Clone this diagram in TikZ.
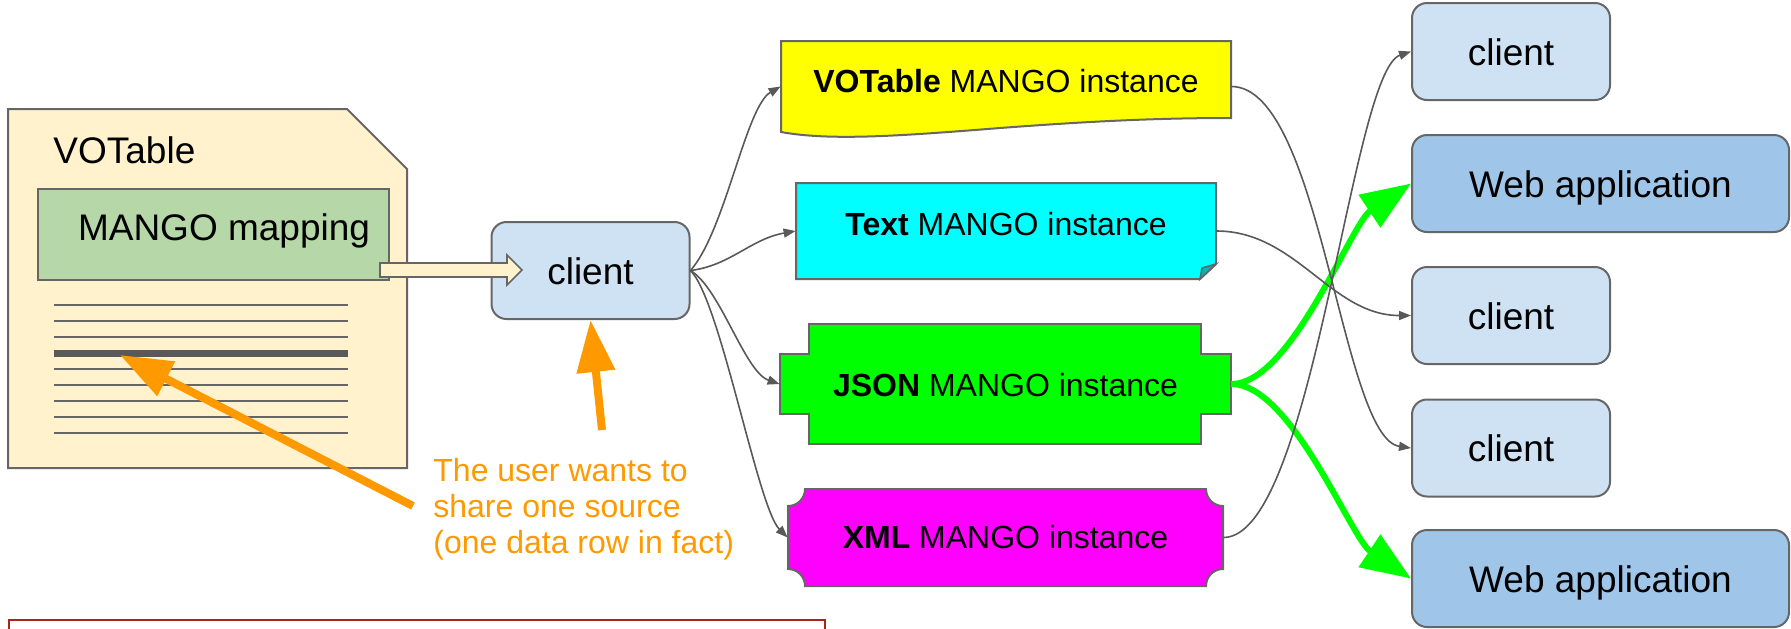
\documentclass[tikz,border=0pt]{standalone}
\usepackage{fontspec}
\setmainfont{Liberation Sans}
\usetikzlibrary{arrows.meta,calc}
\definecolor{LG}{HTML}{666666}
\definecolor{LK}{HTML}{595959}
\definecolor{DC}{HTML}{FFF2CC}
\definecolor{MP}{HTML}{B6D7A8}
\definecolor{CL}{HTML}{CFE2F3}
\definecolor{WB}{HTML}{9FC5E8}
\definecolor{OR}{HTML}{FF9900}
\definecolor{RB}{HTML}{A8261A}
\definecolor{YL}{HTML}{FFFF00}
\definecolor{CY}{HTML}{00FFFF}
\definecolor{CF}{HTML}{00B8B8}
\definecolor{GR}{HTML}{00FF00}
\definecolor{MG}{HTML}{FF00FF}
\newcommand{\bigtxt}{\fontsize{18.5}{22}\selectfont}
\newcommand{\midtxt}{\fontsize{16}{19}\selectfont}

\begin{document}
\begin{tikzpicture}[x=0.5pt, y=-0.5pt,
    lbl/.style={font=\bigtxt, text height=14.5pt, text depth=1pt},
    inst/.style={font=\midtxt, inner sep=0pt},
    appbox/.style={lbl, draw=LG, line width=1pt, rounded corners=7.5pt,
                   minimum width=99pt, minimum height=48.5pt},
    clientbox/.style={appbox, fill=CL},
    webbox/.style={appbox, fill=WB, minimum width=188.5pt},
    outline/.style={draw=LG, line width=1pt},
    link/.style={LK, line width=0.8pt, -{Triangle[length=6pt,width=4.5pt]}},
    feed/.style={GR, line width=3pt, -{Triangle[length=25pt,width=19pt]}},
    hint/.style={OR, line width=4pt, -{Triangle[length=26pt,width=18.5pt]}}]

        \useasboundingbox (0,0) rectangle (1791,628);
        \clip (0,0) rectangle (1791,628);

        %% ── empty box, cut by the lower edge ──
        \draw[RB, line width=1pt] (9,620) rectangle (825,660);

        %% ── VOTable document ──────────────────
        \filldraw[outline, fill=DC]
          (8,109) -- (347,109) -- (407,169) -- (407,468) -- (8,468) -- cycle;
        \node[font=\bigtxt, anchor=base west, inner sep=0pt]
          (doctitle) at (53,163) {VOTable};
        \node[outline, fill=MP, minimum width=175.5pt, minimum height=45.5pt,
              label={[lbl, xshift=5.25pt, yshift=4pt]center:MANGO mapping}]
          (map) at (213.5,234.5) {};

        %% table rows
        \foreach \k in {0,1,2,4,5,6,7,8}{
          \draw[LG, line width=0.75pt]
            (54,{305+16*\k}) -- (348,{305+16*\k});
        }
        \draw[LK, line width=3.5pt] (54,353) -- (348,353);

        %% ── client reading the document ───────
        \node[clientbox] (cl) at (590.5,270.5) {client};

        %% hollow arrow mapping → client
        \filldraw[draw=LG, line width=0.8pt, fill=DC]
          (380,263) -- (507,263) -- (507,255) -- (522,270)
          -- (507,285) -- (507,277) -- (380,277) -- cycle;

        %% ── instance shapes ───────────────────
        \filldraw[outline, fill=YL]
          (781,41) -- (1231,41) -- (1231,118)
          .. controls (1150,118) and (1080,122) .. (1000,128)
          .. controls (900,136) and (830,141) .. (781,132) -- cycle;

        \filldraw[outline, fill=CY]
          (796,183) -- (1216,183) -- (1216,264) -- (1200,279)
          -- (796,279) -- cycle;
        \filldraw[outline, fill=CF, line width=0.8pt]
          (1216,264) -- (1202,268) -- (1200,279) -- cycle;

        \filldraw[outline, fill=GR]
          (809,324) -- (1201,324) -- (1201,354) -- (1231,354)
          -- (1231,414) -- (1201,414) -- (1201,444) -- (809,444)
          -- (809,414) -- (780,414) -- (780,354) -- (809,354) -- cycle;

        \filldraw[outline, fill=MG]
          (805,489) -- (1206,489)
          .. controls (1206,498.4) and (1213.6,506) .. (1223,506)
          -- (1223,569)
          .. controls (1213.6,569) and (1206,576.6) .. (1206,586)
          -- (805,586)
          .. controls (805,576.6) and (797.4,569) .. (788,569)
          -- (788,506)
          .. controls (797.4,506) and (805,498.4) .. (805,489) -- cycle;

        %% instance labels
        \node[inst, minimum width=225pt, text height=25.5pt, text depth=20pt]
          (vot) at (1006,86.5) {\textbf{VOTable} MANGO instance};
        \node[inst, minimum width=210pt, text height=26pt, text depth=22pt]
          (txt) at (1006,231) {\textbf{Text} MANGO instance};
        \node[inst, minimum width=225.5pt, minimum height=60pt,
              text height=13pt, text depth=1pt]
          (json) at (1005.5,384) {\textbf{JSON} MANGO instance};
        \node[inst, minimum width=217.5pt, minimum height=48.5pt,
              text height=12.5pt, text depth=1.5pt]
          (xml) at (1005.5,537.5) {\textbf{XML} MANGO instance};

        %% ── consumers ─────────────────────────
        \node[clientbox] (c1) at (1511,51.5) {client};
        \node[webbox] (w1) at (1600.5,183.5) {Web application};
        \node[clientbox] (c2) at (1511,315.5) {client};
        \node[clientbox] (c3) at (1511,448) {client};
        \node[webbox] (w2) at (1600.5,578.5) {Web application};

        %% ── connections ───────────────────────
        \draw[feed] (json.east) .. controls +(60,0) and +(-60,40) .. (w1.west);
        \draw[feed] (json.east) .. controls +(60,0) and +(-60,-40) .. (w2.west);

        \draw[link] (cl.east) .. controls +(35,-40) and +(-35,20) .. (vot.west);
        \draw[link] (cl.east) .. controls +(40,-5) and +(-45,8) .. (txt.west);
        \draw[link] (cl.east) .. controls +(30,18) and +(-35,-12) .. (json.west);
        \draw[link] (cl.east) .. controls +(30,30) and +(-30,-30) .. (xml.west);

        \draw[link] (vot.east) .. controls +(90,0) and +(-70,-10) .. (c3.west);
        \draw[link] (txt.east) .. controls +(80,0) and +(-80,0) .. (c2.west);
        \draw[link] (xml.east) .. controls +(90,0) and +(-60,20) .. (c1.west);

        %% ── the user's remark ─────────────────
        \coordinate (pick) at (120,355);
        \coordinate (tail1) at (413,506);
        \coordinate (tail2) at (602,430);
        \draw[hint] (tail1) -- (pick);
        \draw[hint] (tail2) -- (cl.south);
        \node[anchor=north west, inner sep=0pt, align=left, text=OR,
              font=\fontsize{16}{18}\selectfont]
          (note) at (433,458)
          {The user wants to\\share one source\\(one data row in fact)};

      \end{tikzpicture}
\end{document}
